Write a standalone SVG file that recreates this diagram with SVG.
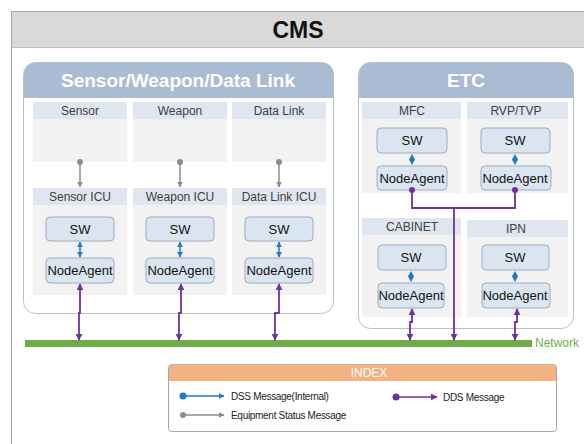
<svg xmlns="http://www.w3.org/2000/svg" width="584" height="444" viewBox="0 0 584 444">
<style>
text{font-family:"Liberation Sans","DejaVu Sans",sans-serif}
.frame{fill:#fff;stroke:#a6a6a6;stroke-width:1}
.title{font-size:23px;font-weight:bold;fill:#111;text-anchor:middle}
.panel{fill:#fff;stroke:#b8c2cf;stroke-width:1}
.phead{fill:#a9bcd3}
.ptext{font-size:19px;font-weight:bold;fill:#fff;text-anchor:middle}
.colh{fill:#dfe6ef}
.colb{fill:#f2f2f2}
.clab{font-size:12px;fill:#404040;text-anchor:middle}
.box{fill:#dbe4f1;stroke:#9eacbf;stroke-width:1}
.btext{font-size:13px;fill:#111;text-anchor:middle}
.dds{fill:none;stroke:#7030a0;stroke-width:1.8}
.dss{fill:none;stroke:#1f78c8;stroke-width:1.5}
.eqs{fill:none;stroke:#8c8c8c;stroke-width:1.5}
.leg{font-size:10px;fill:#222;letter-spacing:-0.3px}
</style>
<defs>
<marker id="aP" viewBox="0 0 10 10" refX="9" refY="5" markerWidth="7" markerHeight="7" markerUnits="userSpaceOnUse" orient="auto-start-reverse"><path d="M0,0L10,5L0,10z" fill="#7030a0"/></marker>
<marker id="aB" viewBox="0 0 10 10" refX="9" refY="5" markerWidth="6" markerHeight="6" markerUnits="userSpaceOnUse" orient="auto-start-reverse"><path d="M0,0L10,5L0,10z" fill="#1f78c8"/></marker>
<marker id="aG" viewBox="0 0 10 10" refX="9" refY="5" markerWidth="6" markerHeight="6" markerUnits="userSpaceOnUse" orient="auto"><path d="M0,0L10,5L0,10z" fill="#8c8c8c"/></marker>
</defs>
<rect width="584" height="444" fill="#fff"/>
<g id="cms">
<rect class="frame" x="11.5" y="11.5" width="600" height="460"/>
<rect x="12" y="12" width="580" height="35" fill="#d9d9d9"/>
<line x1="12" y1="47.5" x2="584" y2="47.5" stroke="#bfbfbf"/>
<text class="title" x="298" y="38">CMS</text>
</g>
<g id="swdl-panel">
<path class="panel" d="M23.5,74.5a12,12 0 0 1 12,-12h286a12,12 0 0 1 12,12v227a12,12 0 0 1 -12,12h-286a12,12 0 0 1 -12,-12z"/>
<path class="phead" d="M24,98V74.5a12,12 0 0 1 12,-12h285.5a12,12 0 0 1 12,12V98z"/>
<text class="ptext" x="178" y="87">Sensor/Weapon/Data Link</text>
</g>
<g id="etc-panel">
<path class="panel" d="M358.5,74.5a12,12 0 0 1 12,-12h191a12,12 0 0 1 12,12v242a12,12 0 0 1 -12,12h-191a12,12 0 0 1 -12,-12z"/>
<path class="phead" d="M359,98V74.5a12,12 0 0 1 12,-12h190.5a12,12 0 0 1 12,12V98z"/>
<text class="ptext" x="466" y="87">ETC</text>
</g>
<g id="sensor">
<rect class="colb" x="33" y="102" width="94" height="60"/><rect class="colh" x="33" y="102" width="94" height="17"/>
<text class="clab" x="80" y="115">Sensor</text>
</g>
<g id="weapon">
<rect class="colb" x="133" y="102" width="94" height="60"/><rect class="colh" x="133" y="102" width="94" height="17"/>
<text class="clab" x="180" y="115">Weapon</text>
</g>
<g id="datalink">
<rect class="colb" x="232" y="102" width="94" height="60"/><rect class="colh" x="232" y="102" width="94" height="17"/>
<text class="clab" x="279" y="115">Data Link</text>
</g>
<g id="sensor-icu">
<rect class="colb" x="33" y="188" width="94" height="107"/><rect class="colh" x="33" y="188" width="94" height="17"/>
<text class="clab" x="80" y="201" font-size="13">Sensor ICU</text>
<rect class="box" x="46" y="217" width="68" height="24" rx="4"/><text class="btext" x="80" y="234">SW</text>
<rect class="box" x="46" y="258" width="68" height="25" rx="4"/><text class="btext" x="80" y="275">NodeAgent</text>
</g>
<g id="weapon-icu">
<rect class="colb" x="133" y="188" width="94" height="107"/><rect class="colh" x="133" y="188" width="94" height="17"/>
<text class="clab" x="180" y="201" font-size="13">Weapon ICU</text>
<rect class="box" x="146" y="217" width="68" height="24" rx="4"/><text class="btext" x="180" y="234">SW</text>
<rect class="box" x="146" y="258" width="68" height="25" rx="4"/><text class="btext" x="180" y="275">NodeAgent</text>
</g>
<g id="datalink-icu">
<rect class="colb" x="232" y="188" width="94" height="107"/><rect class="colh" x="232" y="188" width="94" height="17"/>
<text class="clab" x="279" y="201" font-size="13">Data Link ICU</text>
<rect class="box" x="245" y="217" width="68" height="24" rx="4"/><text class="btext" x="279" y="234">SW</text>
<rect class="box" x="245" y="258" width="68" height="25" rx="4"/><text class="btext" x="279" y="275">NodeAgent</text>
</g>
<g id="mfc">
<rect class="colb" x="362" y="102" width="99" height="91"/><rect class="colh" x="362" y="102" width="99" height="17"/>
<text class="clab" x="412" y="115">MFC</text>
<rect class="box" x="377" y="128" width="70" height="25" rx="4"/><text class="btext" x="412" y="145">SW</text>
<rect class="box" x="377" y="166" width="70" height="24" rx="4"/><text class="btext" x="412" y="183">NodeAgent</text>
</g>
<g id="rvp-tvp">
<rect class="colb" x="467" y="102" width="101" height="91"/><rect class="colh" x="467" y="102" width="101" height="17"/>
<text class="clab" x="516" y="115">RVP/TVP</text>
<rect class="box" x="481" y="128" width="69" height="25" rx="4"/><text class="btext" x="515" y="145">SW</text>
<rect class="box" x="481" y="166" width="70" height="24" rx="4"/><text class="btext" x="515" y="183">NodeAgent</text>
</g>
<g id="cabinet">
<rect class="colb" x="362" y="218" width="99" height="99"/><rect class="colh" x="362" y="218" width="99" height="17"/>
<text class="clab" x="412" y="231">CABINET</text>
<rect class="box" x="378" y="245" width="68" height="25" rx="4"/><text class="btext" x="411" y="262">SW</text>
<rect class="box" x="378" y="283" width="66" height="25" rx="4"/><text class="btext" x="411" y="300">NodeAgent</text>
</g>
<g id="ipn">
<rect class="colb" x="467" y="220" width="101" height="97"/><rect class="colh" x="467" y="220" width="101" height="17"/>
<text class="clab" x="516" y="233">IPN</text>
<rect class="box" x="482" y="245" width="67" height="25" rx="4"/><text class="btext" x="515" y="262">SW</text>
<rect class="box" x="482" y="283" width="68" height="25" rx="4"/><text class="btext" x="515" y="300">NodeAgent</text>
</g>
<g id="network">
<rect x="25" y="340" width="507" height="7" fill="#70ad47"/>
<text x="535" y="347" font-size="12" fill="#70ad47">Network</text>
</g>
<g id="connectors">
<circle cx="80" cy="162" r="3" fill="#8c8c8c"/><line class="eqs" x1="80" y1="162" x2="80" y2="187" marker-end="url(#aG)"/>
<circle cx="180" cy="162" r="3" fill="#8c8c8c"/><line class="eqs" x1="180" y1="162" x2="180" y2="187" marker-end="url(#aG)"/>
<circle cx="279" cy="162" r="3" fill="#8c8c8c"/><line class="eqs" x1="279" y1="162" x2="279" y2="187" marker-end="url(#aG)"/>
<line class="dss" x1="80" y1="242" x2="80" y2="257" marker-start="url(#aB)" marker-end="url(#aB)"/>
<line class="dss" x1="180" y1="242" x2="180" y2="257" marker-start="url(#aB)" marker-end="url(#aB)"/>
<line class="dss" x1="279" y1="242" x2="279" y2="257" marker-start="url(#aB)" marker-end="url(#aB)"/>
<path d="M412,154l3,5.5l-3,5.5l-3,-5.5z" fill="#1f78c8"/>
<path d="M515,154l3,5.5l-3,5.5l-3,-5.5z" fill="#1f78c8"/>
<path d="M411,271l3,5.5l-3,5.5l-3,-5.5z" fill="#1f78c8"/>
<path d="M515,271l3,5.5l-3,5.5l-3,-5.5z" fill="#1f78c8"/>
<path class="dds" d="M80,284V313H79V340" marker-start="url(#aP)" marker-end="url(#aP)"/>
<path class="dds" d="M181,284V313H179V340" marker-start="url(#aP)" marker-end="url(#aP)"/>
<path class="dds" d="M279,284V313H275V340" marker-start="url(#aP)" marker-end="url(#aP)"/>
<path class="dds" d="M412,309V322H410V340" marker-start="url(#aP)" marker-end="url(#aP)"/>
<path class="dds" d="M517,309V322H515V340" marker-start="url(#aP)" marker-end="url(#aP)"/>
<circle cx="412" cy="190" r="3" fill="#7030a0"/><circle cx="515" cy="190" r="3" fill="#7030a0"/>
<path class="dds" d="M412,190V208H515V190"/>
<path class="dds" d="M454,208V340" marker-end="url(#aP)"/>
</g>
<g id="index">
<rect x="168.5" y="364.5" width="388" height="67" rx="3" fill="#fff" stroke="#a6a6a6"/>
<path d="M169,381V367.5a3,3 0 0 1 3,-3h381a3,3 0 0 1 3,3V381z" fill="#f4b183"/>
<text x="369" y="377" font-size="12" fill="#fff" text-anchor="middle">INDEX</text>
<circle cx="183" cy="396" r="3.5" fill="#1f78c8"/><line class="dss" x1="183" y1="396" x2="224" y2="396" marker-end="url(#aB)"/>
<text class="leg" x="231" y="400">DSS Message(Internal)</text>
<circle cx="183" cy="415" r="3" fill="#8c8c8c"/><line class="eqs" x1="183" y1="415" x2="224" y2="415" marker-end="url(#aG)"/>
<text class="leg" x="231" y="419">Equipment Status Message</text>
<circle cx="396" cy="397" r="3.5" fill="#7030a0"/><line stroke="#7030a0" stroke-width="1.5" x1="396" y1="397" x2="437" y2="397" marker-end="url(#aP)"/>
<text class="leg" x="443" y="401">DDS Message</text>
</g>
</svg>
